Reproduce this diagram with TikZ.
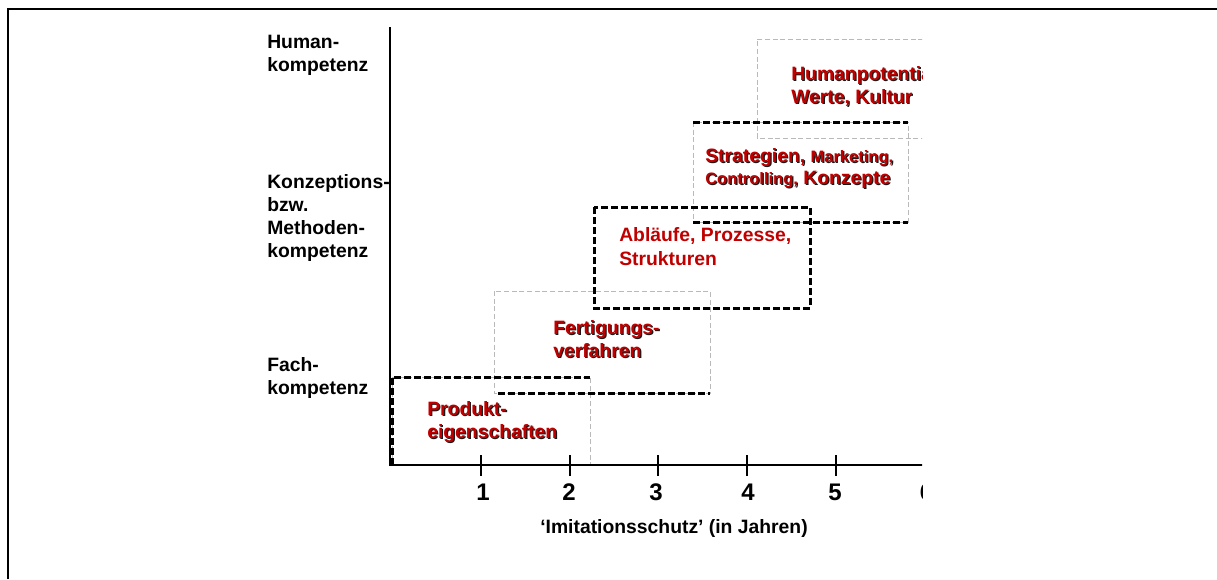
\documentclass[tikz,border=0pt]{standalone}
\usepackage{fontspec}
\setmainfont{Liberation Sans}
\definecolor{redtext}{RGB}{192,0,0}
\definecolor{framegray}{RGB}{185,185,185}
\definecolor{shadowink}{RGB}{25,25,25}
% red label with a small dark drop shadow
\newcommand\shadowed[1]{\rlap{\kern0.9pt\raisebox{-0.9pt}{\color{shadowink}#1}}#1}
\begin{document}
\begin{tikzpicture}[x=0.75pt,y=-0.75pt,
  framerule/.style={line width=1.5pt,draw=black},
  axisrule/.style={line width=1.5pt,draw=black},
  stepline/.style={line width=2.25pt,draw=black,dash pattern=on 5.25pt off 2.25pt},
  textframe/.style={line width=0.75pt,draw=framegray,dash pattern=on 3.75pt off 2pt},
  ylab/.style={anchor=base west,inner sep=0pt,font=\fontsize{14.5}{17}\selectfont\bfseries},
  ticklab/.style={anchor=base,inner sep=0pt,font=\fontsize{18}{20}\selectfont\bfseries},
  redlab/.style={anchor=base west,inner sep=0pt,text=redtext,font=\fontsize{14.5}{17}\selectfont\bfseries}
]
\useasboundingbox (0,0) rectangle (1217,579);

% outer page frame
\draw[framerule] (8,579) -- (8,9) -- (1217,9);

% competence levels on the vertical axis
\node[ylab] (hum1) at (267,48) {Human-};
\node[ylab] (hum2) at (267,71) {kompetenz};
\node[ylab] (kon1) at (267,188) {Konzeptions-};
\node[ylab] (kon2) at (267,211) {bzw.};
\node[ylab] (kon3) at (267,234) {Methoden-};
\node[ylab] (kon4) at (267,257) {kompetenz};
\node[ylab] (fach1) at (267,371) {Fach-};
\node[ylab] (fach2) at (267,394) {kompetenz};

\begin{scope}
\clip (0,0) rectangle (922,579);

% thin text frames
\draw[textframe] (392,377) rectangle (590,465);
\draw[textframe] (494,291) rectangle (710,393);
\draw[textframe] (693,122) rectangle (908,222);
\draw[textframe] (1000,39) -- (757,39) -- (757,138) -- (1000,138);

% axes
\coordinate (origin) at (390,465);
\coordinate (ytop) at (390,27);
\coordinate (xend) at (940,465);
\draw[axisrule] (ytop) -- (origin) -- (xend);
\foreach \i/\x/\lx in {1/481/483,2/570/569,3/658/656,4/747/748,5/836/835,6/925/926.5}{
  \draw[axisrule] (\x,455) -- (\x,476);
  \node[ticklab] (tick\i) at (\lx,500) {\i};
}

% dashed steps
\draw[stepline] (392,465) -- (392,377) -- (590,377);
\draw[stepline] (498,393) -- (710,393);
\draw[stepline] (594,207) rectangle (810,308);
\draw[stepline] (693,122) -- (908,122);
\draw[stepline] (693,222) -- (908,222);

% step contents
\node[redlab] (prod1) at (427,415) {\shadowed{Produkt-}};
\node[redlab] (prod2) at (427,438) {\shadowed{eigenschaften}};
\node[redlab] (fert1) at (553,334) {\shadowed{Fertigungs-}};
\node[redlab] (fert2) at (553,357) {\shadowed{verfahren}};
\node[redlab] (abl1) at (619,241) {Abläufe, Prozesse,};
\node[redlab] (abl2) at (619,265) {Strukturen};
\node[redlab] (str1) at (705,162) {\shadowed{Strategien,} {\fontsize{12.4}{15}\selectfont\shadowed{Marketing,}}};
\node[redlab] (str2) at (705,184) {{\fontsize{12.4}{15}\selectfont\shadowed{Controlling,}} \shadowed{Konzepte}};
\node[redlab] (hp1) at (791,80) {\shadowed{Humanpotential,}};
\node[redlab] (hp2) at (791,103) {\shadowed{Werte, Kultur}};
\end{scope}

% axis title
\node[anchor=base,inner sep=0pt,font=\fontsize{14.5}{17}\selectfont\bfseries] (xtitle) at (674,533) {‘Imitationsschutz’ (in Jahren)};
\end{tikzpicture}
\end{document}
